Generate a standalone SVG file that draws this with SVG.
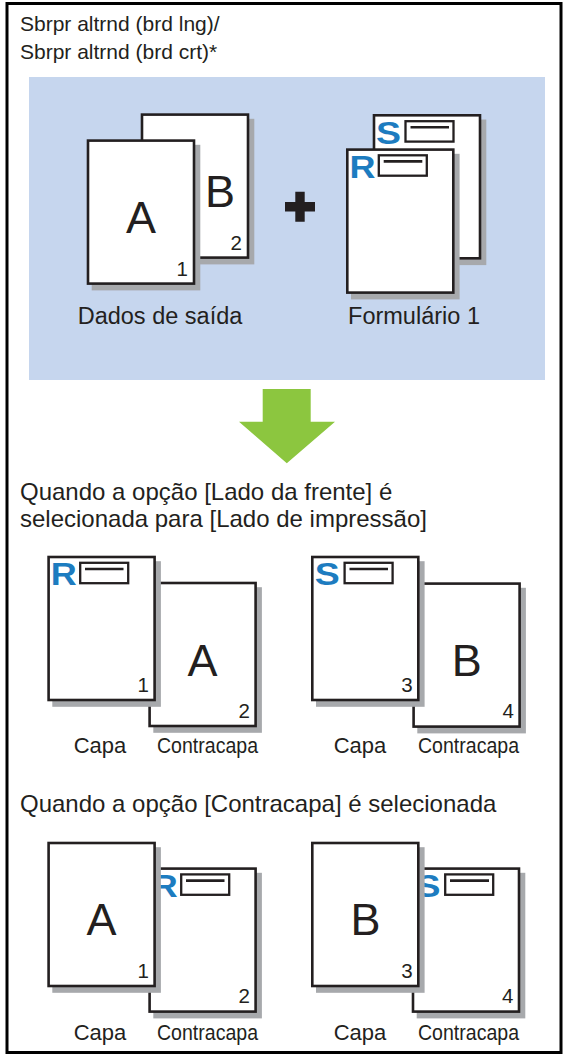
<svg xmlns="http://www.w3.org/2000/svg" width="564" height="1057" viewBox="0 0 564 1057">
<style>
text{font-family:"Liberation Sans",Arial,sans-serif;fill:#231f20}
.pg{fill:#fff;stroke:#231f20;stroke-width:2.6}
.sh{fill:#a7a9ac}
.let{font-size:45px;text-anchor:middle}
.num{font-size:20.5px;text-anchor:end}
.mk{font-size:31px;font-weight:bold;fill:#1d7cc0}
.bx{fill:#fff;stroke:#231f20;stroke-width:2.3}
.ln{stroke:#231f20;stroke-width:2.6}
.lbl{font-size:23.5px;text-anchor:middle}
.cap{font-size:22px;text-anchor:middle}
.hd{font-size:24px}
.tt{font-size:21px}
</style>
<rect x="0" y="0" width="564" height="1057" fill="#fff"/>
<rect id="frame" x="7" y="3.5" width="554" height="1049" fill="none" stroke="#000" stroke-width="3"/>
<g id="title">
<text class="tt" x="20" y="31">Sbrpr altrnd (brd lng)/</text>
<text class="tt" x="20" y="59">Sbrpr altrnd (brd crt)*</text>
</g>
<rect id="panel" x="29" y="77" width="516" height="303" fill="#c6d6ee"/>
<g id="data-B">
<rect class="sh" x="145.7" y="118.8" width="108.6" height="145.6"/>
<rect class="pg" x="142" y="114.6" width="106" height="143"/>
<text class="let" x="220" y="207">B</text>
<text class="num" x="242" y="249.6">2</text>
</g>
<g id="data-A">
<rect class="sh" x="91.7" y="144.8" width="108.6" height="145.6"/>
<rect class="pg" x="88" y="140.6" width="106" height="143"/>
<text class="let" x="141" y="233">A</text>
<text class="num" x="188" y="275.6">1</text>
</g>
<g id="plus"><path d="M285 202H315V211.5H285Z M295.3 191.7H304.7V221.7H295.3Z" fill="#231f20"/></g>
<g id="form-S">
<rect class="sh" x="377.7" y="119.5" width="108.6" height="145.6"/>
<rect class="pg" x="374" y="115.3" width="106" height="143"/>
<text class="mk" x="376" y="143.5" textLength="25" lengthAdjust="spacingAndGlyphs">S</text>
<rect class="bx" x="405.5" y="121.2" width="48" height="20.4"/>
<line class="ln" x1="410.5" y1="127.3" x2="449" y2="127.3"/>
</g>
<g id="form-R">
<rect class="sh" x="351" y="153.8" width="108.6" height="145.6"/>
<rect class="pg" x="347.3" y="149.6" width="106" height="143"/>
<text class="mk" x="349.4" y="177.6" textLength="26" lengthAdjust="spacingAndGlyphs">R</text>
<rect class="bx" x="378.8" y="155.3" width="48" height="20.4"/>
<line class="ln" x1="383.7" y1="161.4" x2="422.3" y2="161.4"/>
</g>
<g id="lbl-dados"><text class="lbl" x="160" y="324">Dados de saída</text></g>
<g id="lbl-form"><text class="lbl" x="414" y="324">Formulário 1</text></g>
<g id="connectors">
<polygon id="arrow" points="262.7,389 310.7,389 310.7,421.7 335,421.7 286.8,463.3 239,421.7 262.7,421.7" fill="#8cc63f"/>
</g>
<g id="heading2">
<text class="hd" x="20" y="500">Quando a opção [Lado da frente] é</text>
<text class="hd" x="20" y="527">selecionada para [Lado de impressão]</text>
</g>
<g id="s1-contra2">
<rect class="sh" x="153.3" y="587.2" width="108.6" height="145.6"/>
<rect class="pg" x="149.6" y="583" width="106" height="143"/>
<text class="let" x="202.6" y="675.6">A</text>
<text class="num" x="250" y="717.5">2</text>
</g>
<g id="s1-capa1">
<rect class="sh" x="52.3" y="561.2" width="108.6" height="145.6"/>
<rect class="pg" x="48.6" y="557" width="106" height="143"/>
<text class="mk" x="50.7" y="585.3" textLength="26" lengthAdjust="spacingAndGlyphs">R</text>
<rect class="bx" x="80.2" y="562.8" width="48" height="20.4"/>
<line class="ln" x1="85" y1="569" x2="123.5" y2="569"/>
<text class="num" x="149" y="691.8">1</text>
</g>
<g id="s1-contra4">
<rect class="sh" x="417.3" y="587.8" width="108.6" height="145.6"/>
<rect class="pg" x="413.6" y="583.6" width="106" height="143"/>
<text class="let" x="466.7" y="675.6">B</text>
<text class="num" x="514" y="717.8">4</text>
</g>
<g id="s1-capa3">
<rect class="sh" x="316" y="561.2" width="108.6" height="145.6"/>
<rect class="pg" x="312.3" y="557" width="106" height="143"/>
<text class="mk" x="314.7" y="585.3" textLength="25" lengthAdjust="spacingAndGlyphs">S</text>
<rect class="bx" x="344.6" y="562.8" width="48" height="20.4"/>
<line class="ln" x1="349.5" y1="569" x2="388" y2="569"/>
<text class="num" x="412.7" y="691.8">3</text>
</g>
<g id="s1-labels">
<text class="cap" x="100" y="753">Capa</text>
<text class="cap" x="207.5" y="753" textLength="101" lengthAdjust="spacingAndGlyphs">Contracapa</text>
<text class="cap" x="360" y="753">Capa</text>
<text class="cap" x="468.5" y="753" textLength="101" lengthAdjust="spacingAndGlyphs">Contracapa</text>
</g>
<g id="heading3"><text class="hd" x="20" y="812">Quando a opção [Contracapa] é selecionada</text></g>
<g id="s2-contra2">
<rect class="sh" x="153.3" y="872.8" width="108.6" height="145.6"/>
<rect class="pg" x="149.6" y="868.6" width="106" height="143"/>
<text class="mk" x="151.7" y="897" textLength="26" lengthAdjust="spacingAndGlyphs">R</text>
<rect class="bx" x="181.2" y="874.4" width="48" height="20.4"/>
<line class="ln" x1="186" y1="880.6" x2="224.5" y2="880.6"/>
<text class="num" x="250" y="1003.4">2</text>
</g>
<g id="s2-capaA">
<rect class="sh" x="52.3" y="847.2" width="108.6" height="145.6"/>
<rect class="pg" x="48.6" y="843" width="106" height="143"/>
<text class="let" x="101.6" y="935.3">A</text>
<text class="num" x="149" y="977.8">1</text>
</g>
<g id="s2-contra4">
<rect class="sh" x="416.7" y="872.8" width="108.6" height="145.6"/>
<rect class="pg" x="413" y="868.6" width="106" height="143"/>
<text class="mk" x="415.4" y="897" textLength="25" lengthAdjust="spacingAndGlyphs">S</text>
<rect class="bx" x="445.2" y="874.4" width="48" height="20.4"/>
<line class="ln" x1="450" y1="880.6" x2="489" y2="880.6"/>
<text class="num" x="513.5" y="1003.4">4</text>
</g>
<g id="s2-capaB">
<rect class="sh" x="316" y="847.2" width="108.6" height="145.6"/>
<rect class="pg" x="312.3" y="843" width="106" height="143"/>
<text class="let" x="365.5" y="935.3">B</text>
<text class="num" x="412.7" y="977.8">3</text>
</g>
<g id="s2-labels">
<text class="cap" x="100" y="1040">Capa</text>
<text class="cap" x="207.5" y="1040" textLength="101" lengthAdjust="spacingAndGlyphs">Contracapa</text>
<text class="cap" x="360" y="1040">Capa</text>
<text class="cap" x="468.5" y="1040" textLength="101" lengthAdjust="spacingAndGlyphs">Contracapa</text>
</g>
</svg>
